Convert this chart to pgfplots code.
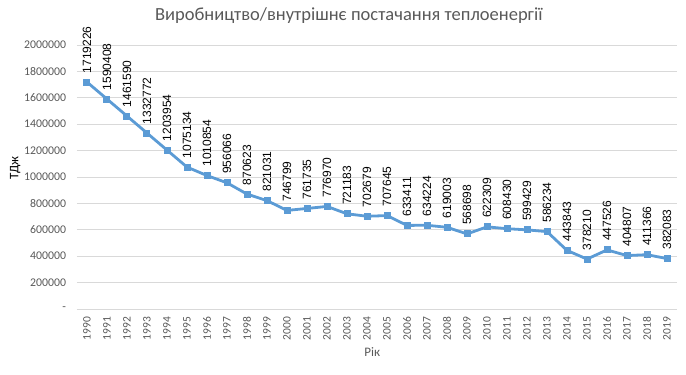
\documentclass[border=0pt]{standalone}
\usepackage{fontspec}
\setmainfont{Carlito}
\newfontfamily\arialfont{Liberation Sans}
\usepackage{pgfplots}
\pgfplotsset{compat=1.18}
\definecolor{exblue}{RGB}{91,155,213}
\definecolor{txtgray}{RGB}{89,89,89}
\definecolor{gridgray}{RGB}{217,217,217}
\begin{document}
\begin{tikzpicture}[x=1pt,y=1pt]
\begin{axis}[
  at={(77pt,66pt)}, anchor=south west,
  scale only axis, width=600pt, height=264pt,
  xmin=-0.5, xmax=29.5, ymin=0, ymax=2000000,
  axis line style={draw=none},
  scaled y ticks=false,
  ytick={0,200000,400000,600000,800000,1000000,1200000,1400000,1600000,1800000,2000000},
  yticklabels={-,200000,400000,600000,800000,1000000,1200000,1400000,1600000,1800000,2000000},
  ymajorgrids, grid style={gridgray, line width=0.9pt},
  xtick={0,...,29},
  xticklabels={1990,1991,1992,1993,1994,1995,1996,1997,1998,1999,2000,2001,2002,2003,2004,2005,2006,2007,2008,2009,2010,2011,2012,2013,2014,2015,2016,2017,2018,2019},
  xticklabel style={rotate=90, anchor=east, inner sep=0pt, outer xsep=8pt, font=\fontsize{11.5}{12}\selectfont, text=txtgray},
  yticklabel style={anchor=east, inner sep=0pt, outer xsep=11pt, font=\fontsize{11.8}{12}\selectfont, text=txtgray},
  /pgf/number format/assume math mode=true,
  major tick length=0pt,
  tick style={draw=none},
  xlabel={Рік}, ylabel={ТДж},
  xlabel style={font=\fontsize{13}{14}\selectfont, text=txtgray, at={(rel axis cs:0.492,-0.163)}, anchor=center},
  ylabel style={font=\fontsize{13}{14}\selectfont, text=black, at={(rel axis cs:-0.103,0.534)}, anchor=center, rotate=0},
  title={Виробництво/внутрішнє постачання теплоенергії},
  title style={font=\fontsize{18.5}{20}\selectfont, text=txtgray, at={(rel axis cs:0.453,1.087)}, anchor=center},
  point meta=explicit symbolic,
  nodes near coords={\pgfplotspointmeta},
  every node near coord/.append style={rotate=90, anchor=west, font=\arialfont\fontsize{12}{13}\selectfont, text=black, inner sep=0pt, outer xsep=9pt},
  clip=false,
]
\addplot[exblue, line width=2.8pt, mark=square*, mark size=3pt, mark options={solid, fill=exblue, draw=exblue, line width=0pt}] coordinates {
(0,1719226) [1719226]
(1,1590408) [1590408]
(2,1461590) [1461590]
(3,1332772) [1332772]
(4,1203954) [1203954]
(5,1075134) [1075134]
(6,1010854) [1010854]
(7,956066) [956066]
(8,870623) [870623]
(9,821031) [821031]
(10,746799) [746799]
(11,761735) [761735]
(12,776970) [776970]
(13,721183) [721183]
(14,702679) [702679]
(15,707645) [707645]
(16,633411) [633411]
(17,634224) [634224]
(18,619003) [619003]
(19,568698) [568698]
(20,622309) [622309]
(21,608430) [608430]
(22,599429) [599429]
(23,586234) [586234]
(24,443843) [443843]
(25,378210) [378210]
(26,447526) [447526]
(27,404807) [404807]
(28,411366) [411366]
(29,382083) [382083]
};
\end{axis}
\pgfresetboundingbox
\path (0,0) rectangle (686,375);
\end{tikzpicture}
\end{document}
